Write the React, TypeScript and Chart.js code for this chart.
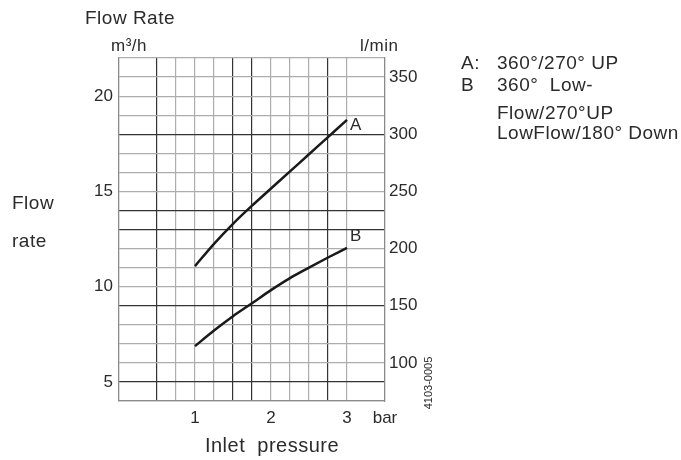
import React, { useEffect, useRef } from "react";
import { Chart, registerables } from "chart.js";

Chart.register(...registerables);

// Inlet pressure (bar)
const pressure = [1, 1.25, 1.5, 1.75, 2, 2.25, 2.5, 2.75, 3];
// Flow rate m³/h
const seriesA = [11.08, 12.25, 13.3, 14.25, 15.15, 16.05, 16.95, 17.85, 18.75];
const seriesB = [6.88, 7.7, 8.45, 9.13, 9.82, 10.45, 11.0, 11.53, 12.04];
const seriesNames = ["A", "B"];

const xTickLabels: Record<string, string> = { "1": "1", "2": "2", "3": "3", "3.5": "bar" };
const leftTickLabels = [5, 10, 15, 20];
const rightTickLabels = [100, 150, 200, 250, 300, 350];
const LPM_PER_M3H = 1000 / 60;

const legendLines = [
  ["A:", "360°/270° UP"],
  ["B", "360°  Low-"],
  ["", "Flow/270°UP"],
  ["", "LowFlow/180° Down"],
];

const darkX = [0.5, 1.5, 1.75, 2.75];
const hiddenX = [0.25, 3.25];
const darkY = [5, 9, 13, 14, 18];

const FONT = "'Liberation Sans', Arial, sans-serif";
const TEXT = "#2b2b2b";

const near = (a: number, b: number) => Math.abs(a - b) < 1e-6;

export default function App() {
  const ref = useRef<HTMLCanvasElement | null>(null);

  useEffect(() => {
    if (!ref.current) return;

    const textPlugin = {
      id: "texts",
      afterDraw(chart: any) {
        const ctx = chart.ctx as any;
        ctx.save();
        ctx.fillStyle = TEXT;
        ctx.textBaseline = "middle";
        ctx.textAlign = "left";
        ctx.letterSpacing = "0.5px";
        ctx.font = `19px ${FONT}`;
        ctx.fillText("Flow Rate", 85, 19);
        ctx.font = `17px ${FONT}`;
        ctx.fillText("m³/h", 111, 46);
        ctx.fillText("l/min", 360, 46);
        ctx.font = `19px ${FONT}`;
        ctx.fillText("Flow", 12, 204);
        ctx.fillText("rate", 12, 242);
        ctx.textAlign = "center";
        ctx.font = `20px ${FONT}`;
        ctx.fillText("Inlet  pressure", 272, 446);
        // legend
        ctx.textAlign = "left";
        ctx.font = `19px ${FONT}`;
        const ys = [64, 86, 114, 134];
        legendLines.forEach((l, i) => {
          if (l[0]) ctx.fillText(l[0], 461, ys[i]);
          ctx.fillText(l[1], 497, ys[i]);
        });
        // curve labels
        const xs = chart.scales.x;
        const yl = chart.scales.y;
        ctx.font = `17px ${FONT}`;
        const n = pressure.length - 1;
        ctx.fillText(seriesNames[0], xs.getPixelForValue(pressure[n]) + 3, yl.getPixelForValue(seriesA[n]) + 5);
        ctx.fillText(seriesNames[1], xs.getPixelForValue(pressure[n]) + 3, yl.getPixelForValue(seriesB[n]) - 11);
        // figure code
        ctx.letterSpacing = "0px";
        ctx.translate(429, 383);
        ctx.rotate(-Math.PI / 2);
        ctx.textAlign = "center";
        ctx.font = `11px ${FONT}`;
        ctx.fillText("4103-0005", 0, 0);
        ctx.restore();
      },
    };

    const chart = new Chart(ref.current, {
      type: "line",
      data: {
        datasets: [
          {
            label: seriesNames[0],
            data: pressure.map((p, i) => ({ x: p, y: seriesA[i] })),
            borderColor: "#1a1a1a",
            borderWidth: 2.5,
            pointRadius: 0,
            cubicInterpolationMode: "monotone",
            fill: false,
          },
          {
            label: seriesNames[1],
            data: pressure.map((p, i) => ({ x: p, y: seriesB[i] })),
            borderColor: "#1a1a1a",
            borderWidth: 2.5,
            pointRadius: 0,
            cubicInterpolationMode: "monotone",
            fill: false,
          },
        ],
      },
      options: {
        animation: false,
        responsive: false,
        devicePixelRatio: 1,
        layout: { padding: { top: 58, left: 0, right: 0, bottom: 0 } },
        plugins: { legend: { display: false }, tooltip: { enabled: false } },
        scales: {
          x: {
            type: "linear",
            min: 0,
            max: 3.5,
            afterFit(scale: any) {
              scale.height = 59;
            },
            afterBuildTicks(scale: any) {
              const t = [];
              for (let i = 0; i <= 14; i++) t.push({ value: i * 0.25 });
              scale.ticks = t;
            },
            ticks: {
              autoSkip: false,
              maxRotation: 0,
              padding: 7,
              color: TEXT,
              font: { family: FONT, size: 17 },
              callback: (v: any) => xTickLabels[String(v)] ?? "",
            },
            grid: {
              drawTicks: false,
              lineWidth: 1.2,
              color: (c: any) => {
                const v = c.tick?.value;
                if (hiddenX.some((h) => near(h, v))) return "rgba(0,0,0,0)";
                if (darkX.some((h) => near(h, v))) return "#333";
                return "#adadad";
              },
            },
            border: { color: "#8a8a8a", width: 1.2 },
          },
          y: {
            type: "linear",
            position: "left",
            min: 4,
            max: 22,
            afterFit(scale: any) {
              scale.width = 119;
            },
            afterBuildTicks(scale: any) {
              const t = [];
              for (let v = 4; v <= 22; v++) t.push({ value: v });
              scale.ticks = t;
            },
            ticks: {
              autoSkip: false,
              padding: 6,
              color: TEXT,
              font: { family: FONT, size: 17 },
              callback: (v: any) => (leftTickLabels.includes(Number(v)) ? String(v) : ""),
            },
            grid: {
              drawTicks: false,
              lineWidth: 1.2,
              color: (c: any) => {
                const v = c.tick?.value;
                if (darkY.some((h) => near(h, v))) return "#333";
                return "#adadad";
              },
            },
            border: { color: "#8a8a8a", width: 1.2 },
          },
          y1: {
            type: "linear",
            position: "right",
            min: 4 * LPM_PER_M3H,
            max: 22 * LPM_PER_M3H,
            afterFit(scale: any) {
              scale.width = 681 - 385;
            },
            afterBuildTicks(scale: any) {
              scale.ticks = rightTickLabels.map((v) => ({ value: v }));
            },
            ticks: {
              autoSkip: false,
              padding: 4,
              color: TEXT,
              font: { family: FONT, size: 17 },
            },
            grid: { display: false, drawTicks: false },
            border: { color: "#8a8a8a", width: 1.2 },
          },
        },
      },
      plugins: [textPlugin],
    } as any);

    return () => chart.destroy();
  }, []);

  return (
    <div style={{ position: "fixed", left: 0, top: 0, width: 681, height: 460, background: "#fff" }}>
      <canvas ref={ref} width={681} height={460} style={{ width: 681, height: 460, display: "block" }} />
    </div>
  );
}
